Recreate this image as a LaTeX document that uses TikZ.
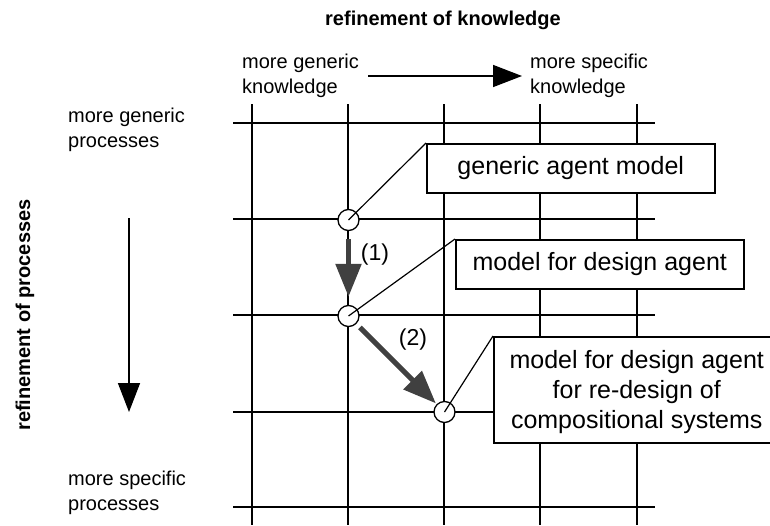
\documentclass[tikz,border=0pt]{standalone}
\usepackage{fontspec}
\setmainfont{Liberation Sans}
\usetikzlibrary{arrows.meta}
\definecolor{arrowgray}{HTML}{404040}
\tikzset{
  grid/.style={line width=1.5pt, black},
  lbl/.style={font=\fontsize{20}{25}\selectfont, inner sep=0pt, align=left},
  numlbl/.style={font=\fontsize{23}{27}\selectfont, inner sep=0pt},
  ttl/.style={font=\fontsize{20}{25}\selectfont\bfseries, inner sep=0pt},
  box/.style={draw, line width=1.5pt, fill=white, font=\fontsize{25}{30}\selectfont, align=center, anchor=north west, inner sep=0pt},
  boxtext/.style={font=\fontsize{25}{30}\selectfont, align=center, inner sep=0pt},
  dot/.style={circle, draw, line width=1.3pt, fill=white, minimum size=21pt, inner sep=0pt},
  callout/.style={line width=1.2pt},
  bigarrow/.style={line width=5.3pt, arrowgray, -{Triangle[length=33pt,width=25pt]}},
  thinarrow/.style={line width=1.5pt, -{Triangle[length=29pt,width=22pt]}}
}
\begin{document}
\begin{tikzpicture}[x=1pt,y=-1pt]
\useasboundingbox (0,0) rectangle (770,525);
% grid
\foreach \x in {252,348,444,540,637} \draw[grid] (\x,104) -- (\x,525);
\foreach \y in {123,219,315,412,507} \draw[grid] (233,\y) -- (655,\y);
% titles and axis labels
\node[ttl] (tk) at (443,20) {refinement of knowledge};
\node[ttl, rotate=90] (tp) at (25,315) {refinement of processes};
\node[lbl, anchor=west] (mgk) at (242,75.5) {more generic\\knowledge};
\node[lbl, anchor=west] (msk) at (530,75.5) {more specific\\knowledge};
\node[lbl, anchor=west] (mgp) at (68,130) {more generic\\processes};
\node[lbl, anchor=west] (msp) at (68,492.5) {more specific\\processes};
\coordinate (ka) at (368,76);
\coordinate (kb) at (522,76);
\draw[thinarrow] (ka) -- (kb);
\coordinate (pa) at (129,218);
\coordinate (pb) at (129,412);
\draw[thinarrow] (pa) -- (pb);
% boxes
\node[box, minimum width=288pt, minimum height=49pt] (b1) at (426,143) {generic agent model};
\node[box, minimum width=288pt, minimum height=49pt] (b2) at (455,239) {model for design agent};
\node[box, minimum width=286pt, minimum height=106pt] (b3) at (493,336) {};
\node[boxtext] (t3) at ([yshift=-2.5pt]b3.center) {model for design agent\\for re-design of\\compositional systems};
% circles
\node[dot] (c1) at (348.5,220) {};
\node[dot] (c2) at (348.5,316) {};
\node[dot] (c3) at (444.5,412) {};
% callouts
\draw[callout] (c1.center) -- (b1.north west);
\draw[callout] (c2.center) -- (b2.north west);
\draw[callout] (c3.center) -- (b3.north west);
% refinement arrows
\draw[bigarrow, xshift=1.5pt, shorten <=8pt, shorten >=8pt] (c1) -- (c2);
\draw[bigarrow, shorten <=5pt, shorten >=1pt] (c2) -- (c3);
\node[numlbl] (l1) at (375,255) {(1)};
\node[numlbl] (l2) at (413,340) {(2)};
\end{tikzpicture}
\end{document}
